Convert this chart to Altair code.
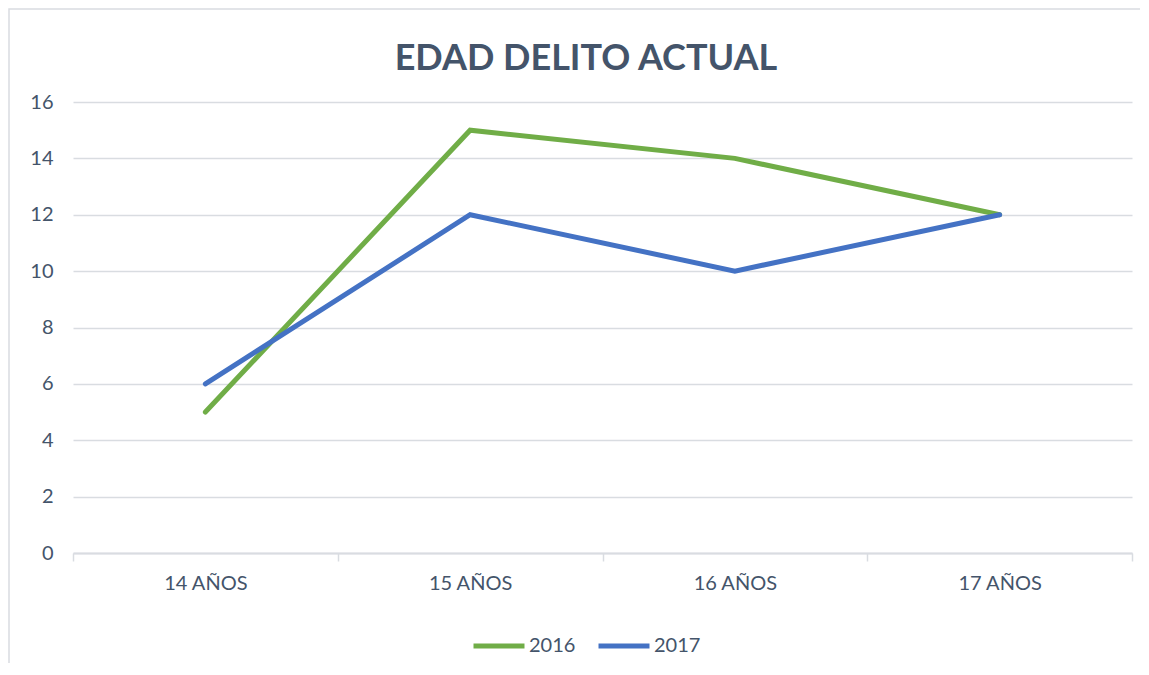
import altair as alt
import pandas as pd

categories = ["14 AÑOS", "15 AÑOS", "16 AÑOS", "17 AÑOS"]
series_2016 = [5, 15, 14, 12]
series_2017 = [6, 12, 10, 12]
y_ticks = [0, 2, 4, 6, 8, 10, 12, 14, 16]

rows = []
for c, v in zip(categories, series_2016):
    rows.append({"cat": c, "serie": "2016", "valor": v})
for c, v in zip(categories, series_2017):
    rows.append({"cat": c, "serie": "2017", "valor": v})
df = pd.DataFrame(rows)

TEXT = "#44546A"
GRID = "#D9DCE1"
FONT = "Lato"

lines = alt.Chart(df).mark_line(strokeWidth=5, strokeCap="round").encode(
    x=alt.X("cat:N", sort=categories, bandPosition=0.5,
            scale=alt.Scale(type="band", paddingInner=0, paddingOuter=0),
            axis=alt.Axis(title=None, labelAngle=0, tickBand="extent", ticks=True,
                          tickSize=8, tickColor=GRID, domainColor=GRID, domainWidth=2,
                          tickWidth=1.5, labelFontSize=20, labelColor=TEXT, labelFont=FONT,
                          labelPadding=12, grid=False)),
    y=alt.Y("valor:Q", scale=alt.Scale(domain=[0, 16]),
            axis=alt.Axis(title=None, values=y_ticks, domain=False, ticks=False,
                          gridColor=GRID, gridWidth=1.5, labelFontSize=20, labelColor=TEXT,
                          labelFont=FONT, labelPadding=20)),
    color=alt.Color("serie:N",
                    scale=alt.Scale(domain=["2016", "2017"], range=["#70AD47", "#4472C4"]),
                    legend=alt.Legend(title=None, orient="none", legendX=398, legendY=516,
                                      direction="horizontal", symbolType="stroke",
                                      symbolSize=2600, symbolStrokeWidth=5,
                                      labelFontSize=20, labelColor=TEXT, labelFont=FONT,
                                      columnPadding=12, labelOffset=2)),
)

frame = alt.Chart(pd.DataFrame({"a": [0]})).mark_rect(
    fill=None, stroke="#D9DCE1", strokeWidth=1.5
).encode(
    x=alt.value(-64), x2=alt.value(1100), y=alt.value(-93), y2=alt.value(600)
)

title = alt.Chart(pd.DataFrame({"t": ["EDAD DELITO ACTUAL"]})).mark_text(
    fontSize=36, fontWeight="bold", color=TEXT, font=FONT, align="center", baseline="alphabetic"
).encode(text="t:N", x=alt.value(513), y=alt.value(-32))

chart = alt.layer(frame, lines, title).properties(
    width=1059,
    height=451,
    padding={"left": 65, "top": 94, "right": 8, "bottom": 110},
    autosize=alt.AutoSizeParams(type="none"),
).configure_view(stroke=None)

chart.save("out.html", embed_options={"renderer": "svg", "actions": False})
